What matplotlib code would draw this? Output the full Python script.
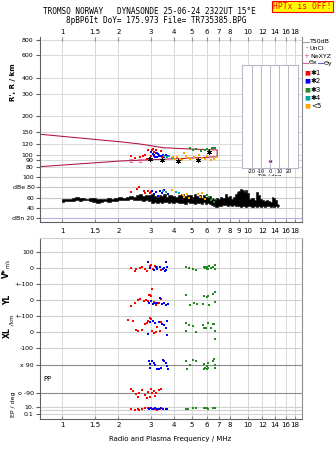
import numpy as np
import matplotlib
matplotlib.use("Agg")
import matplotlib.pyplot as plt
from matplotlib.lines import Line2D
from matplotlib.ticker import FixedLocator, NullLocator

plt.rcParams['font.family'] = 'DejaVu Sans'
plt.rcParams['font.size'] = 4.5

W, H = 335, 451

# ---- frequency axis ----
FLIM = (0.756, 19.64)
top_ticks = [1, 1.5, 2, 3, 4, 5, 6, 7, 8, 10, 12, 14, 16, 18]
mid_ticks = [1, 1.5, 2, 3, 4, 5, 6, 7, 8, 9, 10, 12, 14, 16, 18]

# ---- virtual range panel (MHz, km) ----
r_ticks = [80, 90, 100, 120, 150, 200, 300, 400, 600, 800]
curve_f = [0.756, 2.05, 2.63, 3.50, 4.89, 6.84, 6.84, 4.75, 3.8, 2.05, 0.756]
curve_R = [144.4, 126, 121, 113.2, 110.6, 108.7, 96.2, 93.7, 92.4, 89, 80.4]

red_f = [2.33, 2.47, 2.63, 2.73, 2.80, 2.91, 2.95, 3.00, 3.05, 3.08, 3.13, 3.20, 3.24, 3.30, 3.40, 3.45, 2.85, 3.10]
red_R = [97, 94, 96, 97, 99, 109, 94, 98, 108, 111, 104, 109, 103, 99, 107, 96, 93, 97]
blue_f = [3.02, 3.08, 3.12, 3.18, 3.25, 3.32, 3.40, 3.48, 3.55, 3.62, 3.70, 3.15, 3.28]
blue_R = [104, 101, 99, 103, 96, 98, 97, 100, 95, 99, 97, 95, 101]
cyan_f = [3.55, 3.68, 3.78, 3.88]
cyan_R = [98, 95, 97, 94]
orange_f = [3.95, 4.05, 4.15, 4.30, 4.42, 4.55, 4.62, 4.75, 4.90, 5.10, 5.30, 5.45, 5.65, 5.85, 6.05, 6.30, 6.60, 6.75]
orange_R = [95, 92, 96, 93, 90, 102, 97, 94, 92, 96, 93, 99, 94, 92, 97, 91, 93, 95]
green_f = [4.86, 5.05, 5.25, 5.60, 5.90, 6.05, 6.20, 6.40, 6.55, 6.70, 6.20]
green_R = [112, 109, 110, 106, 108, 111, 109, 112, 113, 112, 105]
star_f = [2.98, 3.45, 4.22, 5.40, 6.15]
star_R = [92, 90, 89, 91, 104]
ne_f = [2.33, 2.63]
ne_R = [90, 90]
tilt_x = [-1.5, 0.8]
tilt_R = [89, 89]

# ---- amplitude panel (dB) ----
amp_f = [1.00, 1.05, 1.10, 1.15, 1.20, 1.25, 1.30, 1.36, 1.42, 1.48, 1.55, 1.62, 1.70, 1.78,
         1.86, 1.95, 2.05, 2.15, 2.25, 2.35, 2.45, 2.55, 2.65, 2.75, 2.85, 2.95, 3.05, 3.15,
         3.25, 3.35, 3.45, 3.55, 3.65, 3.75, 3.85, 4.00, 4.15, 4.30, 4.45, 4.60, 4.75, 4.90,
         5.05, 5.20, 5.35, 5.50, 5.65, 5.80, 5.95, 6.10, 6.25, 6.40, 6.55, 6.70, 6.85, 7.00,
         7.20, 7.40, 7.60, 7.80, 8.00, 8.20, 8.40, 8.60, 8.80, 9.00, 9.20, 9.40, 9.60, 9.80,
         10.0, 10.3, 10.6, 10.9, 11.2, 11.5, 11.8, 12.1, 12.4, 12.7, 13.0, 13.3, 13.6, 13.9,
         14.2, 14.5, 14.8]
amp_lo = [52, 53, 54, 53, 55, 54, 56, 55, 54, 52, 50, 51, 53, 52,
          54, 53, 55, 56, 55, 57, 56, 55, 56, 54, 55, 53, 50, 52,
          49, 51, 50, 52, 51, 49, 52, 50, 51, 49, 50, 48, 51, 49,
          50, 47, 49, 50, 48, 51, 47, 49, 48, 46, 44, 41, 42, 43,
          44, 46, 45, 43, 45, 44, 46, 43, 44, 43, 42, 44, 43, 42,
          43, 44, 42, 43, 42, 44, 42, 43, 42, 44, 43, 42, 43, 42,
          43, 42, 43]
amp_hi = [57, 58, 57, 59, 61, 60, 59, 58, 60, 59, 58, 57, 58, 59,
          58, 59, 61, 60, 62, 63, 62, 64, 66, 63, 65, 64, 66, 63,
          62, 64, 63, 66, 62, 64, 65, 63, 62, 64, 66, 63, 65, 64,
          62, 67, 63, 65, 60, 64, 62, 61, 63, 60, 58, 56, 59, 57,
          62, 60, 66, 61, 63, 58, 62, 67, 70, 73, 76, 74, 71, 75,
          69, 58, 60, 56, 70, 65, 57, 55, 53, 56, 54, 52, 62, 60,
          55, 48, 46]

red_db_f = [2.35, 2.53, 2.58, 2.74, 2.80, 2.88, 2.95, 3.02]
red_db = [71, 77, 80, 73, 69, 72, 68, 70]
blue_db_f = [3.05, 3.12, 3.20, 3.28, 3.35, 3.45, 3.55, 3.70]
blue_db = [73, 66, 70, 63, 72, 68, 74, 67]
cyan_db_f = [3.50, 3.62, 4.12, 4.25]
cyan_db = [73, 71, 70, 69]
orange_db_f = [3.90, 4.45, 4.55, 4.70, 4.80, 5.40, 5.55, 5.70, 5.85, 6.00]
orange_db = [74, 64, 61, 66, 59, 67, 62, 69, 57, 64]
green_db_f = [6.02, 6.15, 6.30, 6.45, 6.55]
green_db = [64, 61, 55, 58, 52]

# ---- lower panel: V* (m/s), YL, XL (km), PP, EP (deg) ----
red_v_f = [2.33, 2.47, 2.50, 2.63, 2.70, 2.78, 2.85, 3.00, 3.08, 3.15, 3.25, 3.40, 2.95]
red_v = [-2, -19, -8, 2, 8, -4, -19, 19, -6, 10, 5, -13, 12]
blue_v_f = [2.90, 2.98, 3.10, 3.18, 3.25, 3.35, 3.48, 3.55, 3.62, 3.64, 3.68, 3.58]
blue_v = [40, -2, -10, 5, -6, 8, -4, 2, 40, -12, 6, -19]
green_v_f = [4.64, 4.79, 5.04, 5.25, 5.78, 5.89, 6.00, 6.13, 6.18, 6.30, 6.52, 6.65, 6.70, 5.95, 6.05]
green_v = [8, -2, -6, -13, 8, -2, 4, -8, 13, 2, 4, 19, -4, 6, -6]

red_yl_f = [2.33, 2.45, 2.55, 2.63, 2.75, 2.82, 2.90, 2.92, 3.02, 3.05, 3.12, 3.20, 3.30, 3.40, 2.98]
red_yl = [-36, -19, 2, 8, -4, -2, -4, 29, 23, 66, -10, -30, -20, 5, 30]
blue_yl_f = [2.92, 3.00, 3.08, 3.15, 3.22, 3.38, 3.45, 3.52, 3.62, 3.70]
blue_yl = [-19, -8, -25, -18, -19, 13, -25, -20, -34, -25]
green_yl_f = [4.64, 4.85, 5.12, 5.35, 5.72, 5.82, 6.00, 6.10, 6.18, 6.52, 6.65, 6.70]
green_yl = [34, -30, -19, -25, -25, 27, 20, 27, -34, 38, 48, -15]

red_xl_f = [2.25, 2.40, 2.50, 2.55, 2.70, 2.78, 2.85, 2.90, 3.00, 3.05, 3.12, 3.18, 3.25, 3.35, 3.40, 2.95]
red_xl = [72, 66, 13, 6, 13, 51, 59, 70, 83, 8, -4, 2, 34, 6, 60, 87]
blue_xl_f = [2.90, 2.98, 3.08, 3.15, 3.30, 3.45, 3.55, 3.62, 3.65, 3.68]
blue_xl = [-15, 62, 66, 55, 60, 52, 45, 27, -19, 66]
green_xl_f = [4.64, 4.64, 4.80, 5.05, 5.25, 5.72, 5.82, 5.95, 6.13, 6.35, 6.52, 6.60, 6.70, 6.65]
green_xl = [59, 8, 45, 38, 2, 45, 24, 24, 55, 24, 52, 48, 8, -45]

red_pp_f = [2.33, 2.40, 2.50, 2.60, 2.70, 2.80, 2.90, 2.95, 3.00, 3.05, 3.10, 3.20, 3.30, 3.40, 2.55, 2.85, 3.15]
red_pp = [-60, -75, -95, -85, -70, -100, -80, -110, -65, -90, -75, -85, -70, -60, -115, -120, -105]
blue_pp_f = [2.92, 2.95, 2.98, 3.05, 3.10, 3.15, 3.30, 3.40, 3.50, 3.55, 3.60, 3.65, 3.70, 3.25]
blue_pp = [110, 95, 70, 115, 100, 85, 65, 70, 120, 110, 100, 80, 65, 62]
green_pp_f = [4.64, 4.70, 4.85, 5.04, 5.25, 5.78, 5.78, 5.90, 6.00, 6.10, 6.13, 6.52, 6.60, 6.65, 6.70, 6.00]
green_pp = [111, 63, 85, 117, 112, 96, 63, 68, 80, 70, 101, 111, 122, 90, 69, 65]

red_ep_f = [2.33, 2.45, 2.55, 2.70, 2.80, 2.90, 3.00, 3.05, 3.15, 3.25, 3.35, 2.60, 2.95]
red_ep = [2.0, 1.5, 3.0, 2.5, 4.0, 3.5, 5.0, 2.0, 3.0, 1.5, 2.0, 1.2, 6.0]
blue_ep_f = [2.92, 3.00, 3.08, 3.15, 3.22, 3.30, 3.40, 3.50, 3.60, 3.68]
blue_ep = [3, 4, 2.5, 3.5, 2, 3, 4, 2.5, 3, 1.8]
green_ep_f = [4.64, 4.75, 5.04, 5.25, 5.78, 5.90, 6.00, 6.13, 6.52, 6.65]
green_ep = [3, 2, 5, 5, 4, 3.5, 4, 3, 4.5, 4.5]

RED, BLUE, GREEN, CYAN, ORANGE = '#ff0000', '#0000ff', '#228b22', '#00a5a5', '#ffa500'
GRID = '#d8d8d8'
SPINE = '#8c8c8c'
CURVE = '#b0103c'
PINK = '#e0609a'


def box(x0, y0, x1, y1):
    return [x0 / W, 1 - y1 / H, (x1 - x0) / W, (y1 - y0) / H]


def px(x, y):
    return x / W, 1 - y / H


def freq_axis(ax, ticks):
    ax.set_xscale('log')
    ax.set_xlim(FLIM)
    ax.xaxis.set_major_locator(FixedLocator(ticks))
    ax.xaxis.set_minor_locator(NullLocator())
    ax.set_xticklabels([('%g' % t) for t in ticks])
    for t in top_ticks:
        ax.axvline(t, color=GRID, lw=0.7, zorder=0)


def spines(ax, top=False, bottom=False):
    ax.spines['top'].set_visible(top)
    ax.spines['bottom'].set_visible(bottom)
    ax.spines['left'].set_color('#606060')
    ax.spines['right'].set_color(SPINE)
    for s in ax.spines.values():
        s.set_linewidth(0.8)


def dots(ax, x, y, c, s=3.5):
    ax.scatter(x, y, s=s, c=c, marker='s', linewidths=0, zorder=3)


fig = plt.figure(figsize=(W / 100, H / 100), dpi=100)

# ================= R' panel =================
ax1 = fig.add_axes(box(40, 37, 302, 176))
freq_axis(ax1, top_ticks)
ax1.xaxis.tick_top()
ax1.tick_params(axis='x', direction='in', length=3, pad=1.5, labelsize=5, color=SPINE)
ax1.set_yscale('log')
ax1.set_ylim(67.9, 837.6)
ax1.yaxis.set_major_locator(FixedLocator(r_ticks))
ax1.yaxis.set_minor_locator(NullLocator())
ax1.set_yticklabels([str(t) for t in r_ticks])
ax1.tick_params(axis='y', length=3, pad=2, labelsize=4.5, color='#606060')
for t in r_ticks:
    ax1.axhline(t, color=GRID, lw=0.7, zorder=0)
spines(ax1)

ax1.plot(curve_f, curve_R, color=CURVE, lw=0.75, zorder=2)
dots(ax1, red_f, red_R, RED)
dots(ax1, blue_f, blue_R, BLUE)
dots(ax1, cyan_f, cyan_R, CYAN)
dots(ax1, orange_f, orange_R, ORANGE)
dots(ax1, green_f, green_R, GREEN)
ax1.scatter(star_f, star_R, s=10, marker=(6, 2, 0), c='k', linewidths=0.6, zorder=4)
ax1.errorbar(ne_f, ne_R, yerr=3, fmt='none', ecolor=PINK, capsize=1.2,
             elinewidth=0.6, capthick=0.6, zorder=4)

# tilt inset
axt = fig.add_axes(box(242, 65, 298, 168))
axt.set_xlim(-30.3, 30.3)
axt.set_yscale('log')
axt.set_ylim(78.5, 505)
axt.set_xticks([-20, -10, 0, 10, 20])
axt.set_xticklabels(['-20', '-10', '0', '10', '20'])
axt.yaxis.set_major_locator(NullLocator())
axt.yaxis.set_minor_locator(NullLocator())
axt.tick_params(axis='x', length=0, pad=1, labelsize=3.6)
for t in [-20, -10, 0, 10, 20]:
    axt.axvline(t, color='#b8b8c8', lw=0.7, zorder=0)
for s in axt.spines.values():
    s.set_color('#b8b8c8')
    s.set_linewidth(0.8)
axt.set_xlabel('Tilt / deg', fontsize=3.8, labelpad=0)
axt.scatter(tilt_x[:1], tilt_R[:1], s=4, marker='|', c=RED, linewidths=1.0)
axt.scatter(tilt_x[1:], tilt_R[1:], s=4, marker='|', c=BLUE, linewidths=1.0)

# ================= amplitude panel =================
ax2 = fig.add_axes(box(40, 176, 302, 222))
freq_axis(ax2, mid_ticks)
ax2.tick_params(axis='x', direction='in', length=2, pad=4, labelsize=5, color=SPINE)
ax2.set_ylim(11.5, 102.6)
db_ticks = [20, 40, 60, 80, 100]
ax2.set_yticks(db_ticks)
ax2.set_yticklabels(['dBn 20', '40', '60', 'dBe 80', '100'])
ax2.tick_params(axis='y', length=3, pad=1, labelsize=4.5, color='#606060')
for t in db_ticks:
    ax2.axhline(t, color='#b4b4e6' if t == 20 else '#c8c8c8', lw=0.8, zorder=0)
spines(ax2, bottom=True)
ax2.spines['bottom'].set_color('#606060')

ax2.fill_between(amp_f, amp_lo, amp_hi, step='mid', color='k', lw=0.4, zorder=2)
dots(ax2, red_db_f, red_db, RED)
dots(ax2, blue_db_f, blue_db, BLUE)
dots(ax2, cyan_db_f, cyan_db, CYAN)
dots(ax2, orange_db_f, orange_db, ORANGE)
dots(ax2, green_db_f, green_db, GREEN)

# ================= lower panel =================
SC = 0.16  # rows per unit for the linear bands


def band(vals, base):
    return [base - v * SC for v in vals]


def ep_row(vals):
    return [410.35 - np.log10(v) * 3.65 for v in vals]


V0, YL0, XL0, PP0 = 268, 300, 332, 379

ax3 = fig.add_axes(box(40, 238, 302, 419))
freq_axis(ax3, top_ticks)
ax3.tick_params(axis='x', direction='in', length=2, pad=2.5, labelsize=5, color=SPINE)
ax3.set_ylim(419, 238)
low_pos = (band([100, 0, -100], V0) + band([0, -100], YL0) + band([0, -100], XL0)
           + band([90, -90], PP0) + ep_row([10, 0.1]))
low_lab = ['100', '0', '+-100', '0', '+-100', '0', '-100', 'x 90', 'o -90', '10.', '0.1']
ax3.set_yticks(low_pos)
ax3.set_yticklabels(low_lab)
ax3.tick_params(axis='y', length=3, pad=1.5, labelsize=4.5, color='#606060')
for y in low_pos[:7] + ep_row([1]):
    ax3.axhline(y, color='#d0d0d0', lw=0.8, zorder=0)
for y in low_pos[7:9]:
    ax3.axhline(y, color='#8a8a8a', lw=0.8, zorder=0)
for y in low_pos[9:]:
    ax3.axhline(y, color='#d0d0d0', lw=0.8, zorder=0)
spines(ax3, top=True, bottom=True)
ax3.spines['top'].set_color('#d0d0d0')
ax3.spines['bottom'].set_color('#606060')

dots(ax3, red_v_f, band(red_v, V0), RED, 3)
dots(ax3, blue_v_f, band(blue_v, V0), BLUE, 3)
dots(ax3, green_v_f, band(green_v, V0), GREEN, 3)
dots(ax3, red_yl_f, band(red_yl, YL0), RED, 3)
dots(ax3, blue_yl_f, band(blue_yl, YL0), BLUE, 3)
dots(ax3, green_yl_f, band(green_yl, YL0), GREEN, 3)
dots(ax3, red_xl_f, band(red_xl, XL0), RED, 3)
dots(ax3, blue_xl_f, band(blue_xl, XL0), BLUE, 3)
dots(ax3, green_xl_f, band(green_xl, XL0), GREEN, 3)
dots(ax3, red_pp_f, band(red_pp, PP0), RED, 3)
dots(ax3, blue_pp_f, band(blue_pp, PP0), BLUE, 4)
dots(ax3, green_pp_f, band(green_pp, PP0), GREEN, 3)
dots(ax3, red_ep_f, ep_row(red_ep), RED, 3)
dots(ax3, blue_ep_f, ep_row(blue_ep), BLUE, 4)
dots(ax3, green_ep_f, ep_row(green_ep), GREEN, 3)

# ================= texts =================
mono = 'DejaVu Sans Mono'
fig.text(*px(149.5, 11.6), 'TROMSO NORWAY   DYNASONDE 25-06-24 2322UT 15°E',
         ha='center', va='center', family=mono, fontsize=5.6)
fig.text(*px(156, 20.3), '8pBP6It DoY= 175.973 File= TR735385.BPG',
         ha='center', va='center', family=mono, fontsize=5.6)
fig.text(*px(302.5, 6.5), 'HPTx is OFF!', ha='center', va='center', family=mono,
         fontsize=5.8, color='red',
         bbox=dict(boxstyle='square,pad=0.15', fc='yellow', ec='red', lw=0.8))

fig.text(*px(13.5, 82), "R', R / km", rotation=90, ha='center', va='center',
         fontsize=5, weight='bold')
fig.text(*px(6.5, 273), 'V*', rotation=90, ha='center', va='center', fontsize=5.5, weight='bold')
fig.text(*px(7, 263), 'm/s', rotation=90, ha='center', va='center', fontsize=3.6)
fig.text(*px(7.5, 300), 'YL', rotation=90, ha='center', va='center', fontsize=5.5, weight='bold')
fig.text(*px(12, 320), '/km', rotation=90, ha='center', va='center', fontsize=4)
fig.text(*px(7.5, 333), 'XL', rotation=90, ha='center', va='center', fontsize=5.5, weight='bold')
fig.text(*px(47, 379), 'PP', ha='center', va='center', fontsize=5)
fig.text(*px(14, 404), 'EP / deg', rotation=90, ha='center', va='center', fontsize=4.5)
fig.text(*px(170, 439), 'Radio and Plasma Frequency / MHz', ha='center', va='center', fontsize=5)


# legend on the right
def lline(x0, x1, y, c):
    fig.add_artist(Line2D([x0 / W, x1 / W], [1 - y / H, 1 - y / H], color=c, lw=0.8))


lline(303, 309, 41.5, '#a0a0a0')
fig.text(*px(310, 41.5), 'T50dB', va='center', fontsize=4.5)
fig.text(*px(306, 48.5), '·', va='center', ha='center', fontsize=5)
fig.text(*px(310, 49), 'UnCl', va='center', fontsize=4.5)
fig.text(*px(306, 56), '+', va='center', ha='center', fontsize=5, color=PINK)
fig.text(*px(310, 56), 'NeXYZ', va='center', fontsize=4.5)
lline(303, 308, 63, PINK)
fig.text(*px(308.5, 63), 'Θx', va='center', fontsize=4.5)
lline(318, 323, 63, '#6060e0')
fig.text(*px(323.5, 63), 'Θy', va='center', fontsize=4.5)

leg_items = [('✱1', RED), ('✱2', BLUE), ('✱3', GREEN), ('✱4', CYAN), ('<5', ORANGE)]
for i, (lab, c) in enumerate(leg_items):
    yy = 73 + i * 8.3
    fig.text(*px(307, yy), '■', va='center', ha='center', fontsize=4.5, color=c)
    fig.text(*px(311, yy), lab, va='center', fontsize=5)

fig.savefig('out.png', dpi=100)
